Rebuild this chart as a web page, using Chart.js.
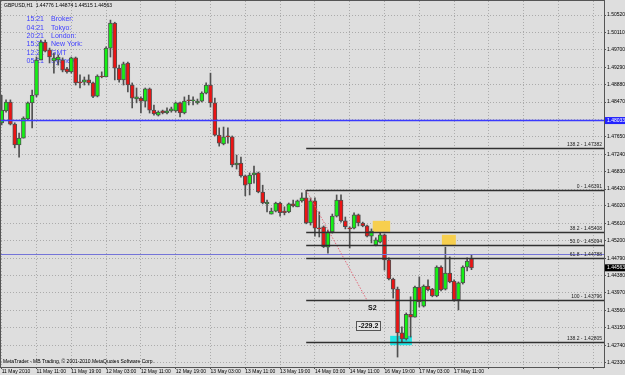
<!DOCTYPE html>
<html>
<head>
<meta charset="utf-8">
<script src="https://cdn.jsdelivr.net/npm/chart.js@4.4.1/dist/chart.umd.min.js"></script>
<style>
  html, body { margin: 0; padding: 0; background: #dedede; }
  canvas { display: block; }
</style>
</head>
<body>
<canvas id="chart" width="625" height="375"></canvas>
<script>
// GBPUSD H1, one bar per hour, 11 May 03:00 -> 17 May 15:00
const opens = [
  1.4798, 1.4826, 1.4847, 1.4795, 1.4746, 1.4762, 1.4807, 1.4845, 1.4863, 1.4946,
  1.4988, 1.4970, 1.4944, 1.4946, 1.4946, 1.4925, 1.4918, 1.4951, 1.4894, 1.4894,
  1.4899, 1.4892, 1.4861, 1.4908, 1.4906, 1.4974, 1.5033, 1.4927, 1.4899, 1.4939,
  1.4887, 1.4854, 1.4856, 1.4849, 1.4878, 1.4828, 1.4816, 1.4826, 1.4821, 1.4826,
  1.4826, 1.4845, 1.4821, 1.4852, 1.4850, 1.4845, 1.4849, 1.4868, 1.4887, 1.4845,
  1.4769, 1.4748, 1.4767, 1.4765, 1.4699, 1.4703, 1.4673, 1.4654, 1.4675, 1.4680,
  1.4635, 1.4607, 1.4583, 1.4590, 1.4609, 1.4590, 1.4588, 1.4607, 1.4600, 1.4614,
  1.4621, 1.4562, 1.4614, 1.4550, 1.4553, 1.4505, 1.4541, 1.4578, 1.4616, 1.4567,
  1.4550, 1.4550, 1.4581, 1.4562, 1.4555, 1.4531, 1.4510, 1.4517, 1.4534, 1.4475,
  1.4430, 1.4406, 1.4303, 1.4289, 1.4347, 1.4340, 1.4411, 1.4366, 1.4413, 1.4406,
  1.4390, 1.4458, 1.4406, 1.4444, 1.4425, 1.4381, 1.4421, 1.4458, 1.4478
];
const highs = [
  1.4863, 1.4852, 1.4852, 1.4798, 1.4774, 1.4812, 1.4847, 1.4875, 1.4953, 1.4993,
  1.4993, 1.4974, 1.4962, 1.4958, 1.4951, 1.4929, 1.4953, 1.4953, 1.4911, 1.4906,
  1.4911, 1.4894, 1.4911, 1.4918, 1.4977, 1.5040, 1.5035, 1.4934, 1.4941, 1.4941,
  1.4892, 1.4880, 1.4859, 1.4880, 1.4880, 1.4840, 1.4826, 1.4828, 1.4833, 1.4835,
  1.4847, 1.4847, 1.4859, 1.4863, 1.4859, 1.4854, 1.4871, 1.4892, 1.4915, 1.4856,
  1.4786, 1.4788, 1.4786, 1.4767, 1.4722, 1.4717, 1.4675, 1.4680, 1.4696, 1.4682,
  1.4651, 1.4616, 1.4597, 1.4611, 1.4611, 1.4600, 1.4609, 1.4616, 1.4616, 1.4633,
  1.4639, 1.4621, 1.4621, 1.4588, 1.4555, 1.4545, 1.4583, 1.4628, 1.4628, 1.4576,
  1.4553, 1.4586, 1.4583, 1.4564, 1.4557, 1.4548, 1.4527, 1.4538, 1.4536, 1.4480,
  1.4432, 1.4411, 1.4317, 1.4350, 1.4388, 1.4413, 1.4435, 1.4416, 1.4428, 1.4408,
  1.4461, 1.4461, 1.4505, 1.4482, 1.4428, 1.4423, 1.4461, 1.4480, 1.4487
];
const lows = [
  1.4793, 1.4823, 1.4793, 1.4739, 1.4717, 1.4762, 1.4805, 1.4786, 1.4859, 1.4946,
  1.4965, 1.4939, 1.4915, 1.4934, 1.4918, 1.4915, 1.4915, 1.4887, 1.4880, 1.4887,
  1.4887, 1.4857, 1.4859, 1.4904, 1.4906, 1.4953, 1.4899, 1.4894, 1.4887, 1.4871,
  1.4833, 1.4845, 1.4821, 1.4835, 1.4821, 1.4816, 1.4814, 1.4819, 1.4819, 1.4823,
  1.4823, 1.4812, 1.4819, 1.4840, 1.4840, 1.4842, 1.4847, 1.4866, 1.4835, 1.4767,
  1.4743, 1.4746, 1.4750, 1.4694, 1.4689, 1.4670, 1.4626, 1.4628, 1.4656, 1.4633,
  1.4607, 1.4588, 1.4583, 1.4588, 1.4578, 1.4581, 1.4586, 1.4600, 1.4600, 1.4611,
  1.4560, 1.4557, 1.4531, 1.4529, 1.4504, 1.4491, 1.4538, 1.4576, 1.4564, 1.4548,
  1.4503, 1.4548, 1.4555, 1.4553, 1.4529, 1.4515, 1.4508, 1.4515, 1.4451, 1.4428,
  1.4385, 1.4246, 1.4282, 1.4286, 1.4293, 1.4340, 1.4364, 1.4364, 1.4402, 1.4388,
  1.4388, 1.4402, 1.4404, 1.4421, 1.4378, 1.4357, 1.4418, 1.4449, 1.4452
];
const closes = [
  1.4828, 1.4847, 1.4795, 1.4746, 1.4762, 1.4809, 1.4845, 1.4863, 1.4946, 1.4988,
  1.4967, 1.4953, 1.4951, 1.4953, 1.4922, 1.4918, 1.4951, 1.4892, 1.4892, 1.4899,
  1.4892, 1.4860, 1.4908, 1.4906, 1.4974, 1.5033, 1.4927, 1.4899, 1.4937, 1.4887,
  1.4856, 1.4859, 1.4849, 1.4878, 1.4828, 1.4819, 1.4823, 1.4821, 1.4826, 1.4831,
  1.4845, 1.4821, 1.4849, 1.4850, 1.4851, 1.4849, 1.4868, 1.4887, 1.4845, 1.4769,
  1.4750, 1.4765, 1.4765, 1.4699, 1.4703, 1.4673, 1.4651, 1.4675, 1.4680, 1.4635,
  1.4609, 1.4611, 1.4590, 1.4609, 1.4586, 1.4586, 1.4607, 1.4602, 1.4614, 1.4621,
  1.4562, 1.4614, 1.4550, 1.4548, 1.4506, 1.4541, 1.4578, 1.4616, 1.4567, 1.4553,
  1.4548, 1.4581, 1.4562, 1.4555, 1.4531, 1.4543, 1.4522, 1.4534, 1.4475, 1.4430,
  1.4406, 1.4303, 1.4289, 1.4347, 1.4340, 1.4411, 1.4376, 1.4413, 1.4404, 1.4390,
  1.4458, 1.4404, 1.4444, 1.4423, 1.4381, 1.4421, 1.4458, 1.4472, 1.4456
];

// time axis labels, one every 8 bars
const timeLabels = ['11 May 2010', '11 May 11:00', '11 May 19:00', '12 May 03:00', '12 May 11:00',
  '12 May 19:00', '13 May 03:00', '13 May 11:00', '13 May 19:00', '14 May 03:00',
  '14 May 11:00', '16 May 19:00', '17 May 03:00', '17 May 11:00'];
const priceTicks = [1.42330, 1.42740, 1.43150, 1.43560, 1.43970, 1.44380, 1.44790, 1.45200,
  1.45610, 1.46020, 1.46420, 1.46830, 1.47240, 1.47650, 1.48060, 1.48470, 1.48880,
  1.49290, 1.49700, 1.50110, 1.50520];

// fibo retracement drawn from bar 70
const fibNames = ['138.2', '0', '38.2', '50.0', '61.8', '100', '138.2'];
const fibPrices = [1.47382, 1.46391, 1.45408, 1.45094, 1.44788, 1.43796, 1.42805];
const fibStart = 70;
const fibEnd = 84;

// rectangles (bar from, bar to, price top, price bottom)
const boxFrom = [85.3, 101.2, 89.3];
const boxTo = [89.3, 104.4, 94.3];
const boxTop = [1.4567, 1.4534, 1.4296];
const boxBottom = [1.4541, 1.4509, 1.4274];

// horizontal lines
const blueLine = 1.48033;
const levelLine = 1.4489;
const bidPrice = 1.44563;

// clock panel
const clockTimes = ['15:21', '04:21', '20:21', '15:21', '12:21', '05:21'];
const clockNames = ['Broker:', 'Tokyo:', 'London:', 'New York:', 'GMT', 'Sydney'];

const bars = opens.map((_, i) => i);
const wickData = bars.map(i => ({ x: i, y: [lows[i], highs[i]] }));
const bodyData = bars.map(i => ({ x: i, y: [opens[i], closes[i]] }));
const bodyColors = bars.map(i => closes[i] >= opens[i] ? '#14f014' : '#ec1414');

const FONT = 'Liberation Sans';

const background = {
    id: 'background',
    beforeDraw(chart) {
        const ctx = chart.ctx;
        ctx.save();
        ctx.fillStyle = '#dedede';
        ctx.fillRect(0, 0, chart.width, chart.height);
        ctx.restore();
    }
};

const objects = {
    id: 'objects',
    beforeDatasetsDraw(chart) {
        const { ctx, scales: { x, y } } = chart;
        ctx.save();
        // rectangles sit behind the candles
        const fills = ['#f7cf4e', '#f7cf4e', '#1fe6e6'];
        boxFrom.forEach((b, k) => {
            const x1 = x.getPixelForValue(b), x2 = x.getPixelForValue(boxTo[k]);
            const y1 = y.getPixelForValue(boxTop[k]), y2 = y.getPixelForValue(boxBottom[k]);
            ctx.fillStyle = fills[k];
            ctx.fillRect(x1, y1, x2 - x1, y2 - y1);
        });
        // clock labels
        ctx.fillStyle = '#4040ff';
        ctx.font = '7px ' + FONT;
        ctx.textBaseline = 'middle';
        clockTimes.forEach((t, k) => {
            const ty = 19.5 + k * 8.35;
            ctx.fillText(t, 26.5, ty);
            ctx.fillText(clockNames[k], 51, ty);
        });
        ctx.restore();
    },
    afterDatasetsDraw(chart) {
        const { ctx, chartArea: a, scales: { x, y } } = chart;
        ctx.save();
        // blue horizontal lines
        ctx.lineWidth = 1.6;
        ctx.strokeStyle = '#3a3aff';
        let py = y.getPixelForValue(blueLine);
        ctx.beginPath(); ctx.moveTo(a.left, py); ctx.lineTo(a.right, py); ctx.stroke();
        ctx.lineWidth = 1;
        ctx.strokeStyle = '#7474d8';
        py = Math.round(y.getPixelForValue(levelLine)) + 0.5;
        ctx.beginPath(); ctx.moveTo(0, py); ctx.lineTo(a.right, py); ctx.stroke();

        // fibo base line, dotted
        ctx.strokeStyle = '#e36a7a';
        ctx.setLineDash([1.5, 1.5]);
        ctx.beginPath();
        ctx.moveTo(x.getPixelForValue(fibStart), y.getPixelForValue(fibPrices[1]));
        ctx.lineTo(x.getPixelForValue(fibEnd), y.getPixelForValue(fibPrices[5]));
        ctx.stroke();
        ctx.setLineDash([]);

        // fibo levels
        const fx = x.getPixelForValue(fibStart);
        ctx.strokeStyle = '#303030';
        ctx.lineWidth = 1.4;
        ctx.fillStyle = '#202020';
        ctx.font = '5px ' + FONT;
        ctx.textAlign = 'right';
        ctx.textBaseline = 'bottom';
        fibPrices.forEach((p, k) => {
            const ly = Math.round(y.getPixelForValue(p)) + 0.5;
            ctx.beginPath(); ctx.moveTo(fx, ly); ctx.lineTo(a.right, ly); ctx.stroke();
            ctx.fillText(fibNames[k] + ' - ' + p.toFixed(5), a.right - 2, ly - 1);
        });

        // S2 pivot label and pip counter
        ctx.textAlign = 'center';
        ctx.textBaseline = 'middle';
        ctx.fillStyle = '#111';
        ctx.font = 'bold 7px ' + FONT;
        ctx.fillText('S2', x.getPixelForValue(85.2), y.getPixelForValue(1.4361));
        const bx = x.getPixelForValue(84.3), by = y.getPixelForValue(1.4320);
        ctx.fillStyle = '#e4e4e4';
        ctx.fillRect(bx - 12, by - 4.5, 24, 9);
        ctx.strokeStyle = '#555';
        ctx.lineWidth = 1;
        ctx.strokeRect(Math.round(bx - 12) + 0.5, Math.round(by - 4.5) + 0.5, 24, 9);
        ctx.fillStyle = '#111';
        ctx.fillText('-229.2', bx, by + 0.5);
        ctx.restore();
    },
    afterDraw(chart) {
        const { ctx, chartArea: a, scales: { y } } = chart;
        ctx.save();
        // frame
        ctx.strokeStyle = '#555';
        ctx.lineWidth = 1;
        ctx.strokeRect(a.left - 0.5, a.top - 0.5, a.right - a.left + 1, a.bottom - a.top + 1);
        // price tags on the axis
        ctx.font = '5px ' + FONT;
        ctx.textBaseline = 'middle';
        ctx.textAlign = 'left';
        [[blueLine, '#2222ff'], [bidPrice, '#000']].forEach(([p, c]) => {
            const ty = y.getPixelForValue(p);
            ctx.fillStyle = c;
            ctx.fillRect(a.right + 1, ty - 3.5, 20, 7);
            ctx.fillStyle = '#fff';
            ctx.fillText(p.toFixed(5), a.right + 3, ty);
        });
        // header and copyright
        ctx.fillStyle = '#000';
        ctx.fillText('GBPUSD,H1  1.44776 1.44874 1.44515 1.44563', 4, 6);
        ctx.fillText('MetaTrader - MB Trading, \u00a9 2001-2010 MetaQuotes Software Corp.', 3, 362);
        ctx.restore();
    }
};

const ctx = document.getElementById('chart').getContext('2d');
new Chart(ctx, {
    type: 'bar',
    data: {
        datasets: [{
            data: bodyData,
            backgroundColor: bodyColors,
            borderColor: '#505050',
            borderWidth: 1,
            borderSkipped: false,
            barThickness: 4,
            minBarLength: 1,
            grouped: false,
            order: 0
        }, {
            data: wickData,
            backgroundColor: '#505050',
            barThickness: 1,
            grouped: false,
            order: 1
        }]
    },
    options: {
        responsive: false,
        animation: false,
        events: [],
        layout: { padding: { left: 1, top: 1, right: 0, bottom: 0 } },
        plugins: { legend: { display: false }, tooltip: { enabled: false } },
        scales: {
            x: {
                type: 'linear',
                min: -0.16,
                max: 138.46,
                offset: false,
                afterBuildTicks: s => {
                    s.ticks = [];
                    for (let k = 0; k * 8 <= 138; k++) s.ticks.push({ value: k * 8 });
                },
                afterFit: s => { s.height = 8; s.paddingLeft = 0; s.paddingRight = 0; },
                ticks: {
                    align: 'start',
                    autoSkip: false,
                    maxRotation: 0,
                    padding: 0,
                    color: '#000',
                    font: { family: FONT, size: 5 },
                    callback: (v, i) => timeLabels[i] || ''
                },
                grid: { offset: false, color: '#ababab', tickLength: 2, tickColor: '#555' },
                border: { display: false, dash: [1, 2] }
            },
            y: {
                position: 'right',
                min: 1.42226,
                max: 1.50850,
                afterBuildTicks: s => { s.ticks = priceTicks.map(v => ({ value: v })); },
                afterFit: s => { s.width = 21; s.paddingTop = 0; s.paddingBottom = 0; },
                ticks: {
                    autoSkip: false,
                    padding: 1,
                    color: '#000',
                    font: { family: FONT, size: 5 },
                    callback: v => v.toFixed(5)
                },
                grid: { color: '#ababab', tickLength: 2, tickColor: '#555' },
                border: { display: false, dash: [1, 2] }
            }
        }
    },
    plugins: [background, objects]
});
</script>
</body>
</html>
